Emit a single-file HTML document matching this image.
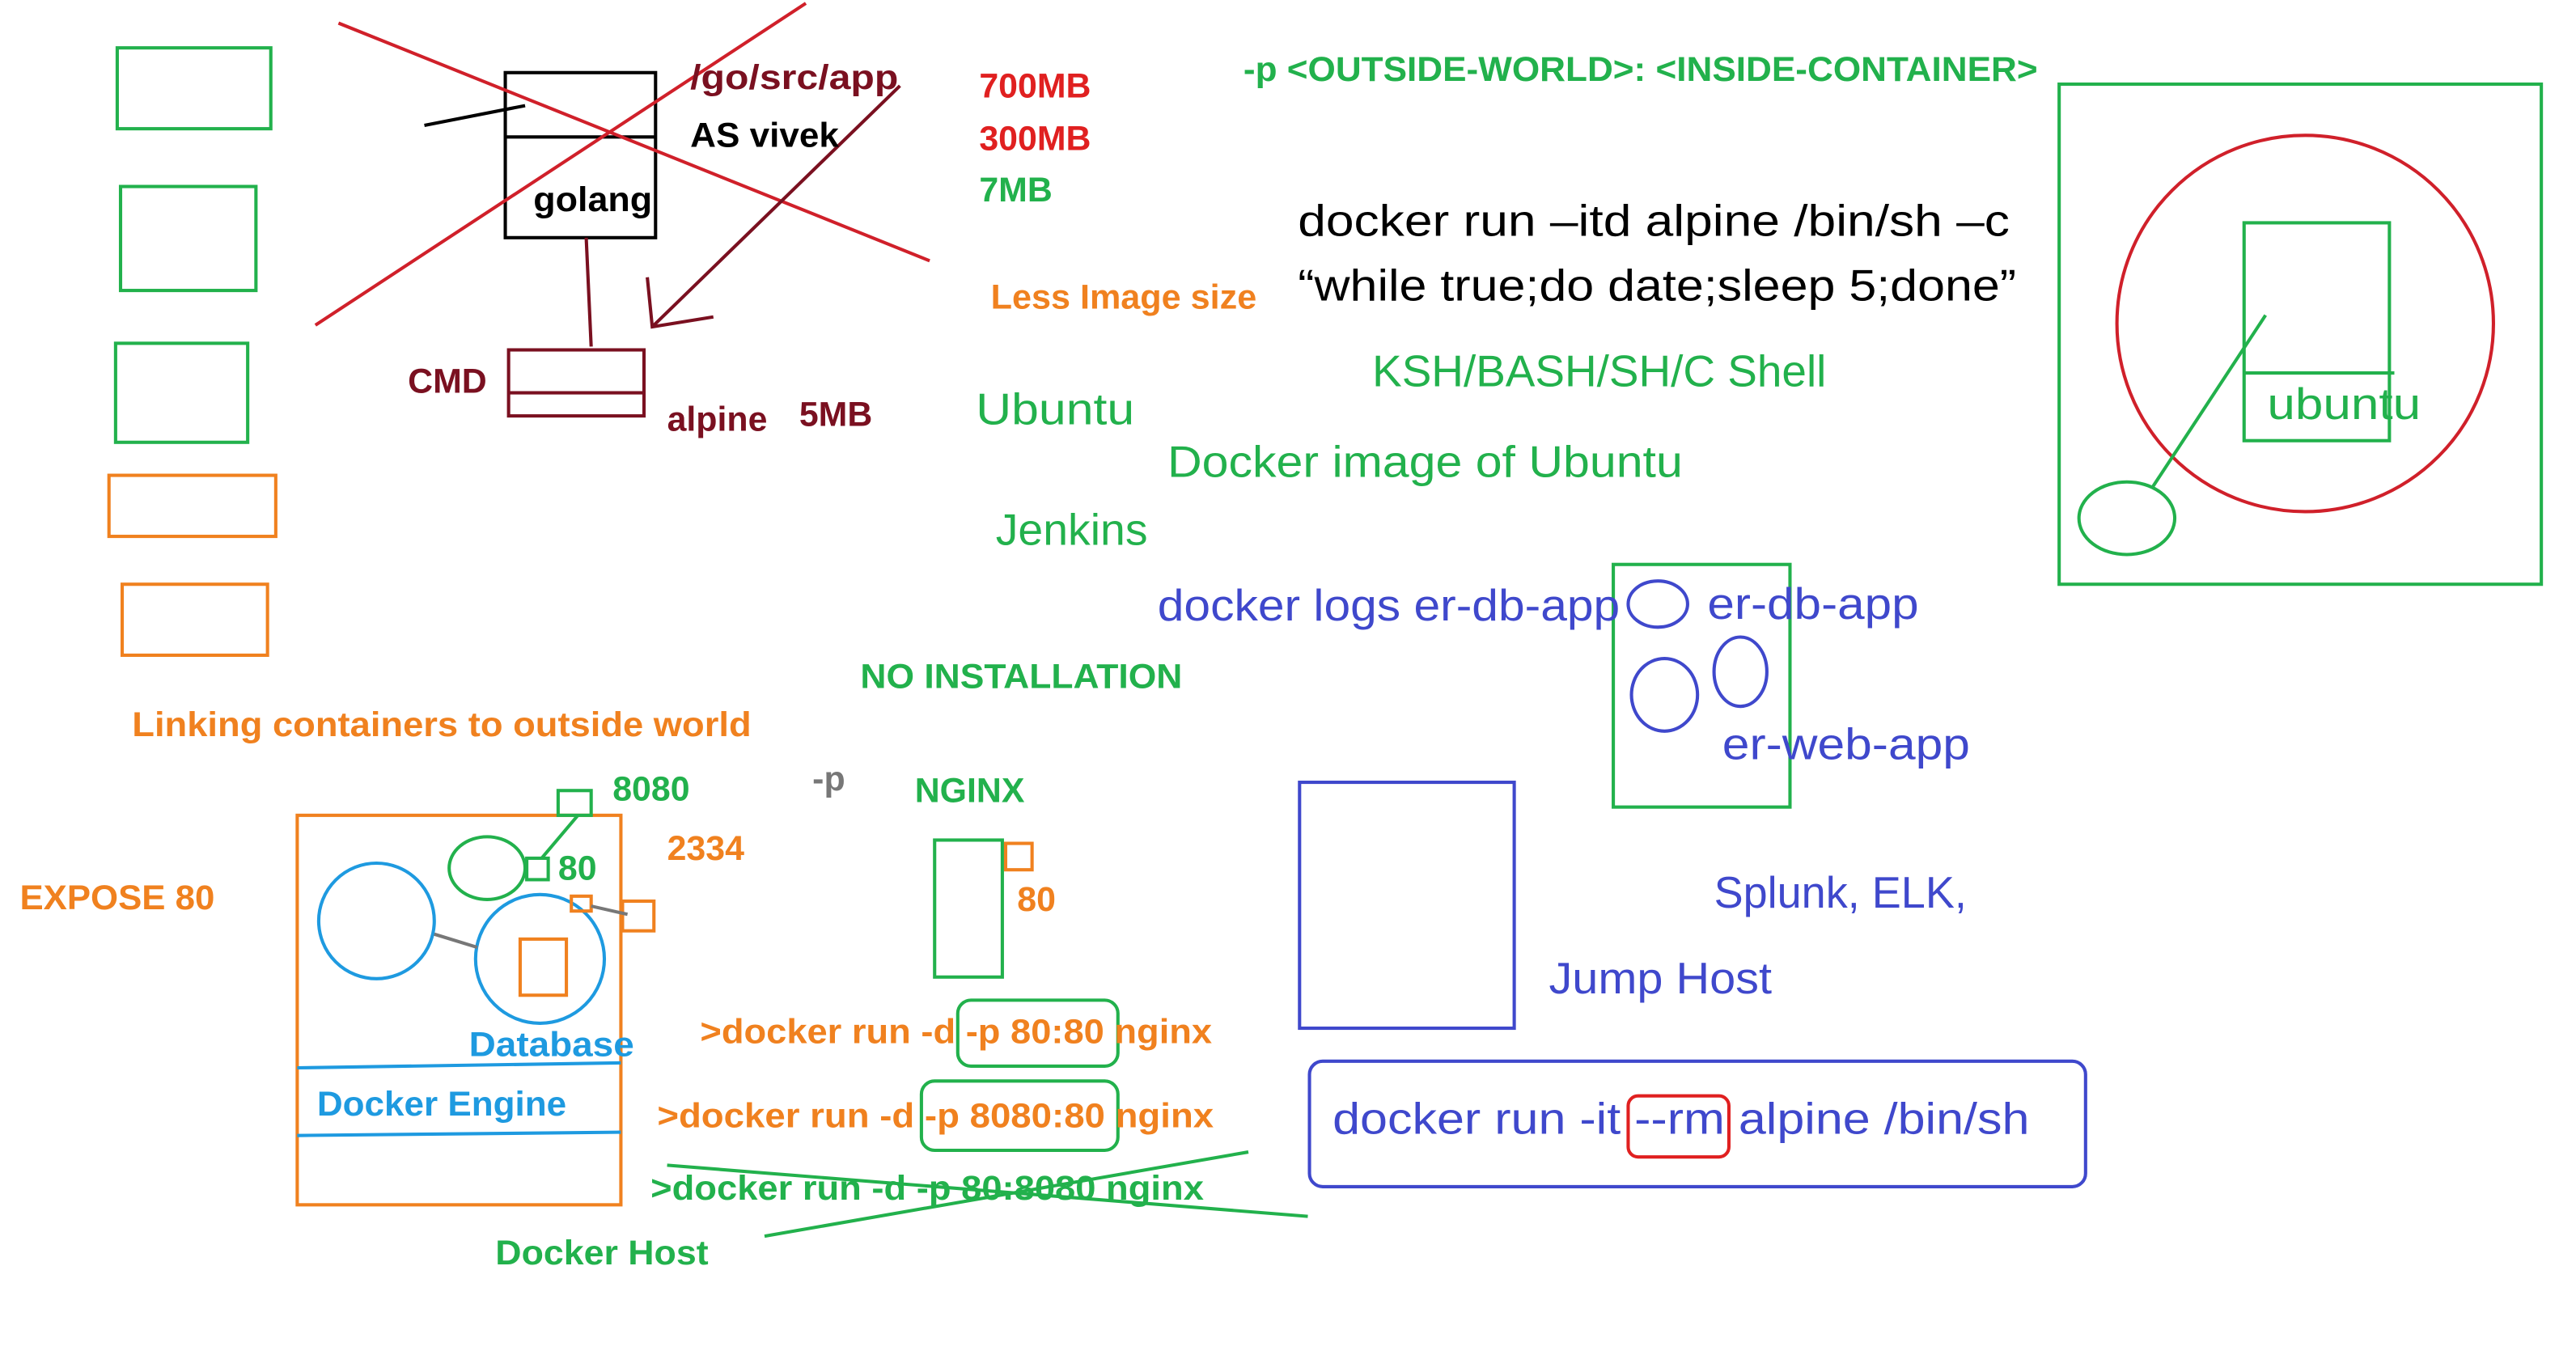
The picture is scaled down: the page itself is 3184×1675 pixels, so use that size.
<!DOCTYPE html>
<html><head><meta charset="utf-8"><style>
html,body{margin:0;padding:0;background:#fff;}
svg{display:block;}
text{font-family:"Liberation Sans",sans-serif;}
</style></head><body>
<svg width="3184" height="1675" viewBox="0 0 1560 821" preserveAspectRatio="none" xmlns="http://www.w3.org/2000/svg">
<rect width="1560" height="821" fill="#fff"/>
<g fill="none" stroke-width="2">
<rect x="71" y="29" width="93" height="49" stroke="#22b14c"/>
<rect x="73" y="113" width="82" height="63" stroke="#22b14c"/>
<rect x="70" y="208" width="80" height="60" stroke="#22b14c"/>
<rect x="66" y="288" width="101" height="37" stroke="#f0811f"/>
<rect x="74" y="354" width="88" height="43" stroke="#f0811f"/>
<rect x="306" y="44" width="91" height="100" stroke="#000"/>
<line x1="306" y1="83" x2="397" y2="83" stroke="#000"/>
<line x1="257" y1="76" x2="318" y2="64" stroke="#000"/>
<line x1="355" y1="144" x2="358" y2="210" stroke="#7a1020"/>
<rect x="308" y="212" width="82" height="40" stroke="#7a1020"/>
<line x1="308" y1="238" x2="390" y2="238" stroke="#7a1020"/>
<line x1="205" y1="14" x2="563" y2="158" stroke="#d0202a"/>
<line x1="191" y1="197" x2="488" y2="2" stroke="#d0202a"/>
<line x1="545" y1="52" x2="395" y2="198" stroke="#7a1020"/>
<polyline points="392,168 395,198 432,192" stroke="#7a1020"/>
<rect x="1247" y="51" width="292" height="303" stroke="#22b14c"/>
<circle cx="1396" cy="196" r="114" stroke="#d0202a"/>
<rect x="1359" y="135" width="88" height="132" stroke="#22b14c"/>
<line x1="1359" y1="226" x2="1450" y2="226" stroke="#22b14c"/>
<line x1="1372" y1="191" x2="1303" y2="296" stroke="#22b14c"/>
<ellipse cx="1288" cy="314" rx="29" ry="22" stroke="#22b14c"/>
<rect x="977" y="342" width="107" height="147" stroke="#22b14c"/>
<ellipse cx="1004" cy="366" rx="18" ry="14" stroke="#3f48cc"/>
<ellipse cx="1008" cy="421" rx="20" ry="22" stroke="#3f48cc"/>
<ellipse cx="1054" cy="407" rx="16" ry="21" stroke="#3f48cc"/>
<rect x="787" y="474" width="130" height="149" stroke="#3f48cc"/>
<rect x="793" y="643" width="470" height="76" rx="8" stroke="#3f48cc"/>
<rect x="986" y="664" width="61" height="37" rx="6" stroke="#e02020"/>
<rect x="180" y="494" width="196" height="236" stroke="#f0811f"/>
<line x1="180" y1="647" x2="376" y2="644" stroke="#1e9ae0"/>
<line x1="180" y1="688" x2="376" y2="686" stroke="#1e9ae0"/>
<circle cx="228" cy="558" r="35" stroke="#1e9ae0"/>
<circle cx="327" cy="581" r="39" stroke="#1e9ae0"/>
<line x1="263" y1="566" x2="289" y2="574" stroke="#777"/>
<rect x="315" y="569" width="28" height="34" stroke="#f0811f"/>
<ellipse cx="295" cy="526" rx="23" ry="19" stroke="#22b14c"/>
<rect x="319" y="520" width="13" height="13" stroke="#22b14c"/>
<rect x="338" y="479" width="20" height="15" stroke="#22b14c"/>
<line x1="328" y1="520" x2="350" y2="494" stroke="#22b14c"/>
<rect x="346" y="543" width="12" height="9" stroke="#f0811f"/>
<rect x="377" y="546" width="19" height="18" stroke="#f0811f"/>
<line x1="358" y1="549" x2="380" y2="554" stroke="#777"/>
<rect x="566" y="509" width="41" height="83" stroke="#22b14c"/>
<rect x="609" y="511" width="16" height="16" stroke="#f0811f"/>
<rect x="580" y="606" width="97" height="40" rx="8" stroke="#22b14c"/>
<rect x="558" y="655" width="119" height="42" rx="8" stroke="#22b14c"/>
<line x1="404" y1="706" x2="792" y2="737" stroke="#22b14c"/>
<line x1="463" y1="749" x2="756" y2="698" stroke="#22b14c"/>
</g>
<g font-weight="bold" font-size="21">
<text x="418" y="54" fill="#7a1020" textLength="126" lengthAdjust="spacingAndGlyphs">/go/src/app</text>
<text x="418" y="89" fill="#000" textLength="90" lengthAdjust="spacingAndGlyphs">AS vivek</text>
<text x="323" y="128" fill="#000" textLength="72" lengthAdjust="spacingAndGlyphs">golang</text>
<text x="247" y="238" fill="#7a1020">CMD</text>
<text x="404" y="261" fill="#7a1020">alpine</text>
<text x="484" y="258" fill="#7a1020">5MB</text>
<text x="593" y="59" fill="#e02020">700MB</text>
<text x="593" y="91" fill="#e02020">300MB</text>
<text x="593" y="122" fill="#22b14c">7MB</text>
<text x="600" y="187" fill="#f0811f" textLength="161" lengthAdjust="spacingAndGlyphs">Less Image size</text>
<text x="753" y="49" fill="#22b14c" textLength="481" lengthAdjust="spacingAndGlyphs">-p &lt;OUTSIDE-WORLD&gt;: &lt;INSIDE-CONTAINER&gt;</text>
<text x="521" y="417" fill="#22b14c" textLength="195" lengthAdjust="spacingAndGlyphs">NO INSTALLATION</text>
<text x="80" y="446" fill="#f0811f" textLength="375" lengthAdjust="spacingAndGlyphs">Linking containers to outside world</text>
<text x="371" y="485" fill="#22b14c">8080</text>
<text x="492" y="479" fill="#777">-p</text>
<text x="554" y="486" fill="#22b14c">NGINX</text>
<text x="338" y="533" fill="#22b14c">80</text>
<text x="404" y="521" fill="#f0811f">2334</text>
<text x="12" y="551" fill="#f0811f" textLength="118" lengthAdjust="spacingAndGlyphs">EXPOSE  80</text>
<text x="616" y="552" fill="#f0811f">80</text>
<text x="284" y="640" fill="#1e9ae0" textLength="100" lengthAdjust="spacingAndGlyphs">Database</text>
<text x="192" y="676" fill="#1e9ae0" textLength="151" lengthAdjust="spacingAndGlyphs">Docker Engine</text>
<text x="300" y="766" fill="#22b14c" textLength="129" lengthAdjust="spacingAndGlyphs">Docker Host</text>
<text x="424" y="632" fill="#f0811f" textLength="310" lengthAdjust="spacingAndGlyphs">&gt;docker run -d -p 80:80 nginx</text>
<text x="398" y="683" fill="#f0811f" textLength="337" lengthAdjust="spacingAndGlyphs">&gt;docker run -d -p 8080:80 nginx</text>
<text x="394" y="727" fill="#22b14c" textLength="335" lengthAdjust="spacingAndGlyphs">&gt;docker run -d -p 80:8080 nginx</text>
</g>
<g font-size="27">
<text x="786" y="143" fill="#000" textLength="431" lengthAdjust="spacingAndGlyphs">docker run –itd alpine /bin/sh –c</text>
<text x="786" y="182" fill="#000" textLength="435" lengthAdjust="spacingAndGlyphs">“while true;do date;sleep 5;done”</text>
<text x="831" y="234" fill="#22b14c" textLength="275" lengthAdjust="spacingAndGlyphs">KSH/BASH/SH/C Shell</text>
<text x="591" y="257" fill="#22b14c" textLength="96" lengthAdjust="spacingAndGlyphs">Ubuntu</text>
<text x="707" y="289" fill="#22b14c" textLength="312" lengthAdjust="spacingAndGlyphs">Docker image of Ubuntu</text>
<text x="603" y="330" fill="#22b14c" textLength="92" lengthAdjust="spacingAndGlyphs">Jenkins</text>
<text x="1373" y="254" fill="#22b14c" textLength="93" lengthAdjust="spacingAndGlyphs">ubuntu</text>
<text x="701" y="376" fill="#3f48cc" textLength="280" lengthAdjust="spacingAndGlyphs">docker logs er-db-app</text>
<text x="1034" y="375" fill="#3f48cc" textLength="128" lengthAdjust="spacingAndGlyphs">er-db-app</text>
<text x="1043" y="460" fill="#3f48cc" textLength="150" lengthAdjust="spacingAndGlyphs">er-web-app</text>
<text x="1038" y="550" fill="#3f48cc" textLength="153" lengthAdjust="spacingAndGlyphs">Splunk, ELK,</text>
<text x="938" y="602" fill="#3f48cc" textLength="135" lengthAdjust="spacingAndGlyphs">Jump Host</text>
<text x="807" y="687" fill="#3f48cc" textLength="422" lengthAdjust="spacingAndGlyphs">docker run -it --rm alpine /bin/sh</text>
</g>
</svg>
</body></html>
